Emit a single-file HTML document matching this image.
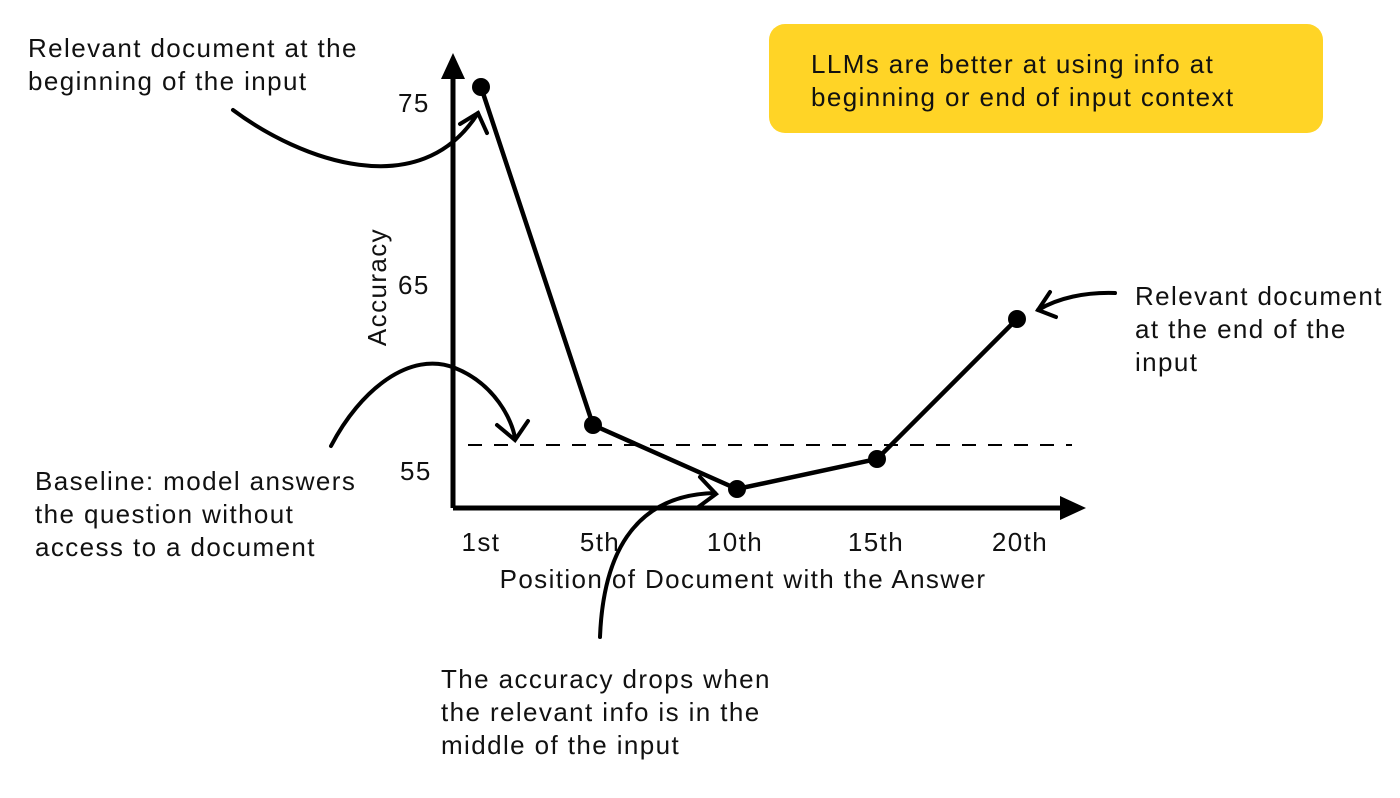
<!DOCTYPE html>
<html><head><meta charset="utf-8"><style>
html,body{margin:0;padding:0;background:#fff;}
svg text{font-family:"Liberation Sans",sans-serif;font-size:26px;letter-spacing:1.4px;fill:#111;}
</style></head><body>
<svg width="1400" height="793" viewBox="0 0 1400 793" xmlns="http://www.w3.org/2000/svg">
<rect x="769" y="24" width="554" height="109" rx="16" fill="#FFD426"/>
<text x="811" y="73">LLMs are better at using info at</text>
<text x="811" y="106">beginning or end of input context</text>

<g stroke="#000" stroke-width="5" fill="none" stroke-linecap="butt">
<line x1="453" y1="508" x2="453" y2="75"/>
<line x1="453" y1="508" x2="1065" y2="508"/>
</g>
<polygon points="453,53 441,79 465,79" fill="#000"/>
<polygon points="1086,508 1060,496 1060,520" fill="#000"/>
<line x1="468" y1="445" x2="1072" y2="445" stroke="#000" stroke-width="2" stroke-dasharray="14,12"/>

<polyline points="481,87 593,425 737,489 877,459 1017,319" fill="none" stroke="#000" stroke-width="4.5"/>
<g fill="#000">
<circle cx="481" cy="87" r="9"/><circle cx="593" cy="425" r="9"/><circle cx="737" cy="489" r="9"/><circle cx="877" cy="459" r="9"/><circle cx="1017" cy="319" r="9"/>
</g>

<g stroke="#000" stroke-width="4" fill="none" stroke-linecap="round">
<path d="M233,110 C300,160 420,205 478,113"/>
<path d="M460,124 L478,113 L487,133"/>
<path d="M331,446 C360,390 410,350 455,368 C495,384 512,420 515,438"/>
<path d="M497,425 L515,440 L528,421"/>
<path d="M600,637 C603,560 630,495 715,493"/>
<path d="M700,477 L716,494 L697,508"/>
<path d="M1115,293 C1085,292 1058,298 1038,310"/>
<path d="M1050,292 L1038,310 L1056,317"/>
</g>

<text x="398" y="112">75</text>
<text x="398" y="294">65</text>
<text x="400" y="480">55</text>
<text transform="translate(386,287) rotate(-90)" text-anchor="middle">Accuracy</text>
<text x="481" y="551" text-anchor="middle">1st</text>
<text x="600" y="551" text-anchor="middle">5th</text>
<text x="735" y="551" text-anchor="middle">10th</text>
<text x="876" y="551" text-anchor="middle">15th</text>
<text x="1020" y="551" text-anchor="middle">20th</text>
<text x="743" y="588" text-anchor="middle">Position of Document with the Answer</text>

<text x="28" y="57">Relevant document at the</text>
<text x="28" y="90">beginning of the input</text>
<text x="35" y="490">Baseline: model answers</text>
<text x="35" y="523">the question without</text>
<text x="35" y="556">access to a document</text>
<text x="441" y="688">The accuracy drops when</text>
<text x="441" y="721">the relevant info is in the</text>
<text x="441" y="754">middle of the input</text>
<text x="1135" y="305">Relevant document</text>
<text x="1135" y="338">at the end of the</text>
<text x="1135" y="371">input</text>
</svg>
</body></html>
